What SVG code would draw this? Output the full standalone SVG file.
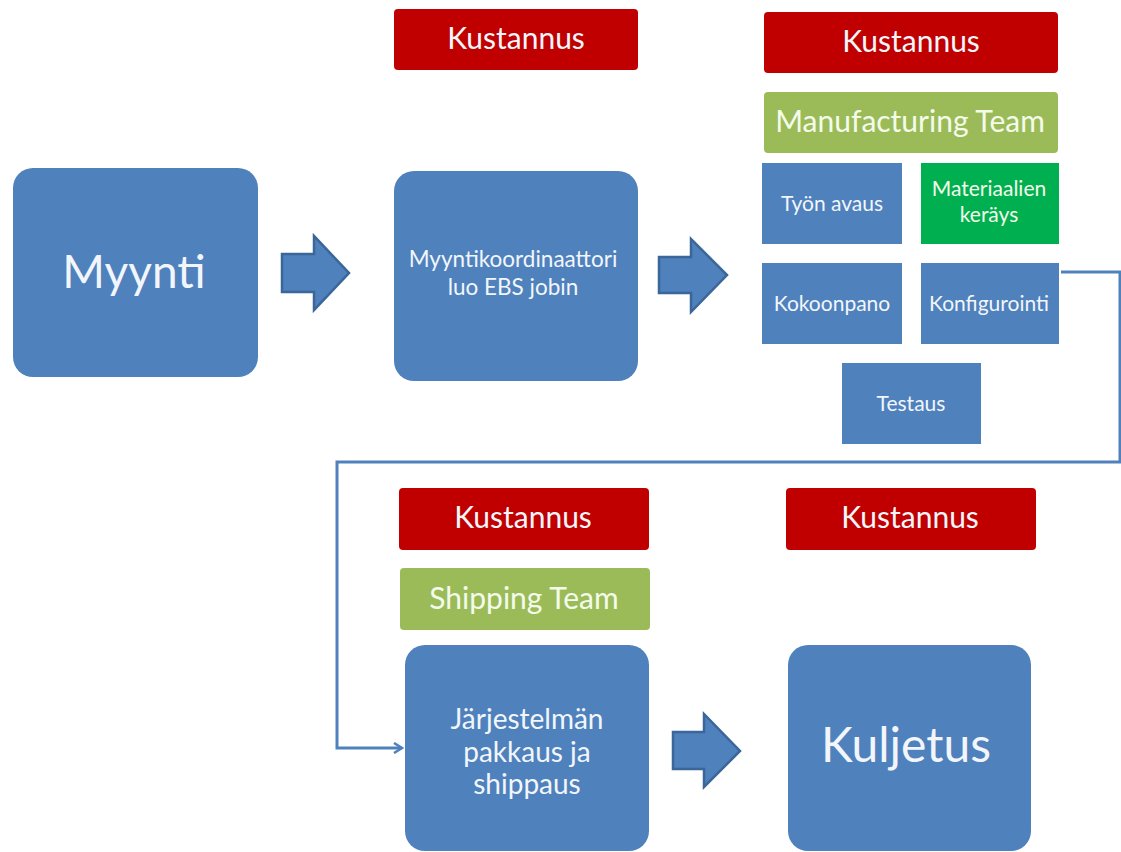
<svg xmlns="http://www.w3.org/2000/svg" width="1121" height="852" viewBox="0 0 1121 852">
<defs>
<style>
.blue{fill:#4F81BD;}
.red{fill:#C00000;}
.olive{fill:#9BBB59;}
.green{fill:#00B050;}
text{font-family:Lato,"Liberation Sans",sans-serif;fill:#F2F6FB;text-anchor:middle;dominant-baseline:central;}
.gt{fill:#F4FBEA;}
.barrow{fill:#4F81BD;stroke:#3A6699;stroke-width:2.5;stroke-linejoin:miter;}
.conn{fill:none;stroke:#4F81BD;stroke-width:3;}
</style>
<marker id="open" viewBox="0 0 12 12" refX="10" refY="6" markerWidth="12" markerHeight="12" markerUnits="userSpaceOnUse" orient="auto">
<polyline points="2,1 10,6 2,11" fill="none" stroke="#4F81BD" stroke-width="2.5"/>
</marker>
</defs>
<rect width="1121" height="852" fill="#FFFFFF"/>

<g id="connectors">
<polygon class="barrow" points="282,254 314,254 314,236 349,273 314,310 314,292 282,292"/>
<polygon class="barrow" points="659,257 691,257 691,239 727,275 691,312 691,293 659,293"/>
<polygon class="barrow" points="673,732 704,732 704,714 740,751 704,787 704,769 673,769"/>
<path class="conn" d="M1061,272 H1120 V462 H337 V748 H402" marker-end="url(#open)"/>
</g>

<g id="myynti"><rect class="blue" x="13" y="168" width="245" height="209" rx="20"/><text x="134" y="270" font-size="46">Myynti</text></g>

<g id="kustannus1"><rect class="red" x="394" y="9" width="244" height="61" rx="4"/><text x="516" y="37" font-size="30">Kustannus</text></g>
<g id="myyntikoordinaattori"><rect class="blue" x="394" y="171" width="244" height="210" rx="20"/><text x="513" y="258" font-size="22.5">Myyntikoordinaattori</text><text x="513" y="286" font-size="22.5">luo EBS jobin</text></g>

<g id="kustannus2"><rect class="red" x="764" y="12" width="294" height="61" rx="4"/><text x="911" y="40" font-size="30">Kustannus</text></g>
<g id="manufacturing-team"><rect class="olive" x="764" y="92" width="294" height="61" rx="4"/><text class="gt" x="910" y="120" font-size="30">Manufacturing Team</text></g>
<g id="tyon-avaus"><rect class="blue" x="762" y="163" width="140" height="81"/><text x="832" y="202" font-size="21">Työn avaus</text></g>
<g id="materiaalien-keruu"><rect class="green" x="921" y="163" width="138" height="81"/><text class="gt" x="989" y="187" font-size="21">Materiaalien</text><text class="gt" x="989" y="213" font-size="21">keräys</text></g>
<g id="kokoonpano"><rect class="blue" x="762" y="263" width="140" height="81"/><text x="832" y="302" font-size="21">Kokoonpano</text></g>
<g id="konfigurointi"><rect class="blue" x="921" y="263" width="138" height="81"/><text x="989" y="302" font-size="21">Konfigurointi</text></g>
<g id="testaus"><rect class="blue" x="842" y="363" width="139" height="81"/><text x="911" y="402" font-size="21">Testaus</text></g>

<g id="kustannus3"><rect class="red" x="399" y="488" width="250" height="62" rx="4"/><text x="523" y="516" font-size="30">Kustannus</text></g>
<g id="shipping-team"><rect class="olive" x="400" y="568" width="250" height="62" rx="4"/><text class="gt" x="524" y="597" font-size="30">Shipping Team</text></g>
<g id="jarjestelman-pakkaus"><rect class="blue" x="405" y="645" width="244" height="206" rx="20"/><text x="527" y="718" font-size="28">Järjestelmän</text><text x="527" y="751" font-size="28">pakkaus ja</text><text x="527" y="783" font-size="28">shippaus</text></g>

<g id="kustannus4"><rect class="red" x="786" y="488" width="250" height="62" rx="4"/><text x="910" y="516" font-size="30">Kustannus</text></g>
<g id="kuljetus"><rect class="blue" x="788" y="645" width="243" height="206" rx="20"/><text x="906" y="743" font-size="48">Kuljetus</text></g>
</svg>
